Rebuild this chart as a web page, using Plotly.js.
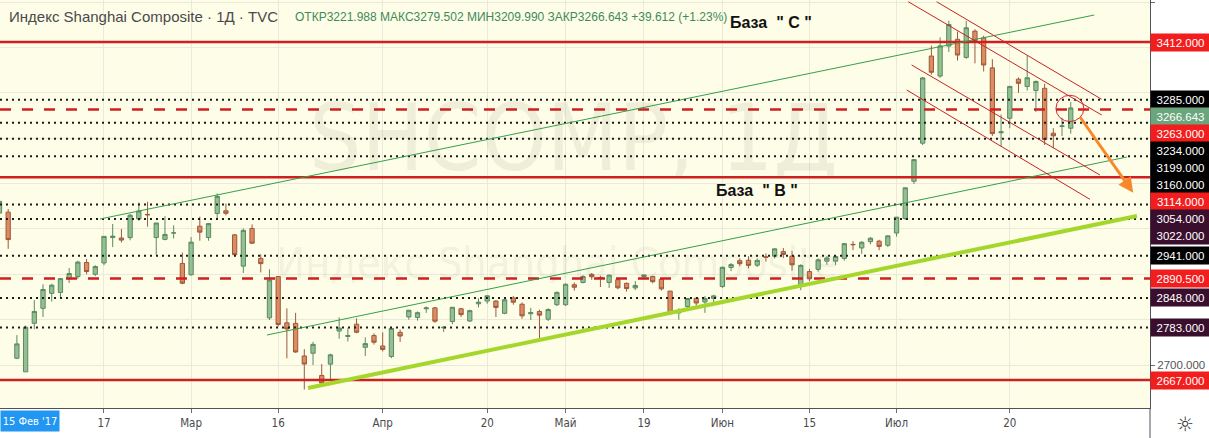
<!DOCTYPE html>
<html>
<head>
<meta charset="utf-8">
<script src="https://cdn.plot.ly/plotly-3.0.1.min.js"></script>
<style>html,body{margin:0;padding:0;background:#fff;}#chart{width:1209px;height:438px;}</style>
</head>
<body>
<div id="chart"></div>
<script>
// ---------- data (daily candles, Index Shanghai Composite) ----------
const dates = ['2020-01-22','2020-01-23','2020-02-03','2020-02-04','2020-02-05','2020-02-06','2020-02-07','2020-02-10','2020-02-11','2020-02-12',
'2020-02-13','2020-02-14','2020-02-17','2020-02-18','2020-02-19','2020-02-20','2020-02-21','2020-02-24','2020-02-25','2020-02-26',
'2020-02-27','2020-02-28','2020-03-02','2020-03-03','2020-03-04','2020-03-05','2020-03-06','2020-03-09','2020-03-10','2020-03-11',
'2020-03-12','2020-03-13','2020-03-16','2020-03-17','2020-03-18','2020-03-19','2020-03-20','2020-03-23','2020-03-24','2020-03-25',
'2020-03-26','2020-03-27','2020-03-30','2020-03-31','2020-04-01','2020-04-02','2020-04-03','2020-04-07','2020-04-08','2020-04-09',
'2020-04-10','2020-04-13','2020-04-14','2020-04-15','2020-04-16','2020-04-17','2020-04-20','2020-04-21','2020-04-22','2020-04-23',
'2020-04-24','2020-04-27','2020-04-28','2020-04-29','2020-04-30','2020-05-06','2020-05-07','2020-05-08','2020-05-11','2020-05-12',
'2020-05-13','2020-05-14','2020-05-15','2020-05-18','2020-05-19','2020-05-20','2020-05-21','2020-05-22','2020-05-25','2020-05-26',
'2020-05-27','2020-05-28','2020-05-29','2020-06-01','2020-06-02','2020-06-03','2020-06-04','2020-06-05','2020-06-08','2020-06-09',
'2020-06-10','2020-06-11','2020-06-12','2020-06-15','2020-06-16','2020-06-17','2020-06-18','2020-06-19','2020-06-22','2020-06-23',
'2020-06-24','2020-06-29','2020-06-30','2020-07-01','2020-07-02','2020-07-03','2020-07-06','2020-07-07','2020-07-08','2020-07-09',
'2020-07-10','2020-07-13','2020-07-14','2020-07-15','2020-07-16','2020-07-17','2020-07-20','2020-07-21','2020-07-22','2020-07-23',
'2020-07-24','2020-07-27','2020-07-28','2020-07-29'];

const openP = [3035,3037,2715,2685,2792,2825,2858,2860,2890,2895,
2926,2900,2925,2981,2980,2981,3022,3032,2981,2977,
2991,2924,2899,3006,2981,3034,3040,2987,2918,3001,
2935,2804,2895,2793,2792,2720,2726,2677,2702,2775,
2763,2790,2739,2765,2742,2719,2772,2806,2805,2824,
2826,2782,2796,2824,2797,2835,2841,2841,2814,2848,
2834,2813,2818,2801,2833,2833,2877,2882,2900,2893,
2882,2888,2880,2870,2895,2895,2889,2863,2815,2829,
2847,2839,2847,2873,2915,2930,2931,2920,2938,2940,
2950,2940,2877,2906,2911,2929,2929,2935,2966,2958,
2972,2973,2964,2991,3023,3105,3189,3381,3337,3403,
3418,3378,3436,3421,3355,3212,3244,3330,3314,3305,
3310,3211,3226,3221.988];

const highP = [3068,3044,2766,2787,2843,2878,2879,2892,2914,2930,
2934,2920,2984,3011,3000,3033,3058,3060,3013,3028,
3008,2948,2982,3027,3013,3078,3056,2989,3001,3010,
2944,2911,2895,2825,2815,2735,2751,2702,2725,2805,
2781,2803,2761,2770,2772,2780,2778,2821,2818,2829,
2828,2786,2827,2826,2822,2847,2854,2843,2844,2852,
2838,2826,2822,2825,2862,2880,2882,2898,2903,2897,
2900,2892,2882,2885,2898,2897,2892,2863,2825,2846,
2849,2852,2855,2917,2925,2935,2940,2935,2946,2957,
2958,2952,2922,2912,2935,2940,2942,2968,2973,2973,
2982,2976,2986,3026,3091,3153,3335,3404,3422,3459,
3435,3459,3440,3426,3374,3252,3315,3334,3382,3327,
3320,3222,3245,3279.502];

const lowP = [3010,2956,2713,2685,2779,2806,2840,2850,2881,2890,
2900,2896,2920,2960,2970,2975,3018,3005,2943,2975,
2979,2878,2897,2974,2974,3021,3030,2940,2903,2968,
2904,2799,2785,2715,2727,2646,2700,2660,2667,2758,
2752,2770,2720,2745,2730,2715,2751,2800,2798,2815,
2793,2773,2790,2806,2795,2827,2835,2806,2812,2833,
2802,2799,2755,2797,2830,2830,2864,2880,2888,2872,
2870,2867,2862,2865,2890,2880,2864,2810,2800,2825,
2831,2815,2835,2870,2907,2918,2913,2916,2928,2935,
2936,2908,2865,2885,2906,2921,2920,2930,2953,2945,
2966,2953,2960,2983,3020,3099,3185,3340,3333,3390,
3371,3375,3365,3347,3205,3182,3222,3300,3305,3258,
3185,3178,3205,3209.990];

const closeP = [3060.8,2976.5,2746.6,2783.3,2818.1,2866.5,2876.0,2890.5,2901.7,2926.9,
2906.1,2917.0,2983.6,2984.0,2975.4,3030.2,3039.7,3031.2,3013.1,2987.9,
2991.3,2880.3,2970.9,2992.9,3011.7,3071.7,3034.5,2943.3,2996.8,2968.5,
2923.5,2887.4,2789.3,2779.6,2728.8,2702.1,2745.6,2660.2,2722.4,2781.6,
2764.9,2772.2,2747.2,2750.3,2734.5,2780.6,2764.0,2820.8,2815.4,2825.9,
2796.6,2783.1,2827.3,2811.2,2819.9,2838.5,2852.6,2827.0,2844.0,2838.5,
2808.5,2815.5,2810.0,2822.4,2860.1,2878.1,2871.5,2895.3,2894.8,2891.6,
2898.1,2870.3,2868.5,2875.4,2898.6,2883.7,2867.9,2813.8,2818.0,2846.6,
2836.8,2846.2,2852.4,2915.4,2921.4,2923.4,2919.7,2930.8,2937.8,2956.1,
2943.8,2920.9,2919.7,2890.0,2931.8,2935.9,2939.3,2967.6,2965.3,2970.6,
2979.6,2961.5,2984.7,3026.0,3090.6,3152.8,3332.9,3345.3,3403.4,3450.6,
3383.3,3443.3,3414.6,3361.3,3210.1,3214.1,3314.2,3320.9,3333.2,3325.1,
3196.8,3205.2,3227.0,3266.643];

// axis tick dates / labels
const tickDates = ['2020-02-17','2020-03-02','2020-03-16','2020-04-01','2020-04-20','2020-05-06','2020-05-19','2020-06-01','2020-06-15','2020-07-01','2020-07-20'];
const tickLabels = ['17','Мар','16','Апр','20','Май','19','Июн','15','Июл','20'];
const priceTicks = [2700,2800,2900,3000,3100,3200,3300,3400,3500];
const priceTicksShown = [2700, 3500];   // others are hidden under the level labels

// horizontal levels
const solidLevels = [3412, 3114, 2667];
const dashedLevels = [3263, 2890.5];
const dottedLevels = [3285, 3234, 3199, 3160, 3054, 3022, 2941, 2848, 2783];
const dottedLabelKind = ['black','black','black','black','purple','purple','black','purple','purple'];
const lastPrice = 3266.643;

// trend lines: [barIndex0, price0, barIndex1, price1]
const greenChannel = [[11.54, 3021.9, 125.7, 3471.5], [30.71, 2766.2, 129.45, 3158.5]];
const supportLine = [35.42, 2649.4, 130.6, 3028.5];
const redChannel = [[107.6, 3500.8, 126.55, 3285.7], [104.34, 3500.8, 126.55, 3251.1],
                    [104.73, 3361.3, 126.35, 3118.8], [104.16, 3306.2, 125.2, 3065.3]];
const arrowLine = [123.94, 3250.0, 130.17, 3079.8];

// ---------- build ----------
const xIdx = dates.map((d, i) => i);
const tickVals = tickDates.map(d => dates.indexOf(d));
const yRange = [2605.3, 3504.6];
const xRange = [0.06, 132.1];
const plotH = 408;

const FONT = 'Liberation Sans, Arial, sans-serif';
const NARROW = 'Liberation Sans Narrow, DejaVu Sans Condensed, Liberation Sans, Arial, sans-serif';

const trace = {
  type: 'candlestick',
  x: xIdx, open: openP, high: highP, low: lowP, close: closeP,
  increasing: {line: {color: '#5b8a5f', width: 1}, fillcolor: '#92c092'},
  decreasing: {line: {color: '#9c5a3c', width: 1}, fillcolor: '#e08a60'},
  whiskerwidth: 0,
  hoverinfo: 'skip',
  showlegend: false
};

const shapes = [];
function hline(p, color, width, dash) {
  shapes.push({type: 'line', xref: 'paper', x0: 0, x1: 1, yref: 'y', y0: p, y1: p,
    line: {color: color, width: width, dash: dash}, layer: 'above'});
}
dottedLevels.forEach(p => hline(p, '#1b1b1b', 2, '2px,4px'));
dashedLevels.forEach(p => hline(p, '#d11f1f', 2.5, '11px,11px'));
solidLevels.forEach(p => hline(p, '#cf1f1f', 2.5, 'solid'));

function seg(a, color, width) {
  shapes.push({type: 'line', xref: 'x', yref: 'y', x0: a[0], y0: a[1], x1: a[2], y1: a[3],
    line: {color: color, width: width}, layer: 'above'});
}
greenChannel.forEach(a => seg(a, '#35a04a', 1));
seg(supportLine, '#a5d62c', 4);
redChannel.forEach(a => seg(a, '#c62424', 1));

// circle around the last candle
const lastI = xIdx[xIdx.length - 1];
shapes.push({type: 'circle', xref: 'x', yref: 'y', x0: lastI - 1.7, x1: lastI + 1.5,
  y0: lastPrice - 30, y1: lastPrice + 28, line: {color: '#d12a2a', width: 1}, layer: 'above'});

// axis separator in bottom strip
shapes.push({type: 'line', xref: 'paper', yref: 'paper', x0: 1, x1: 1, y0: 0, y1: -30 / plotH,
  line: {color: '#50535e', width: 1}});

const annotations = [];
// watermark (drawn first, under the rest)
annotations.push({xref: 'paper', yref: 'paper', x: 573 / 1150, y: 1 - 138 / plotH, xanchor: 'center', yanchor: 'middle',
  text: 'SHCOMP, 1Д', showarrow: false, height: 80, valign: 'middle',
  font: {family: NARROW, size: 92, color: 'rgba(90,90,60,0.085)'}});
annotations.push({xref: 'paper', yref: 'paper', x: 556 / 1150, y: 1 - 263 / plotH, xanchor: 'center', yanchor: 'middle',
  text: 'Индекс Shanghai Composite', showarrow: false, height: 40, valign: 'middle',
  font: {family: NARROW, size: 43, color: 'rgba(90,90,60,0.085)'}});

// title lines
annotations.push({xref: 'paper', yref: 'paper', x: 7 / 1150, y: 1 - 17 / plotH, xanchor: 'left', yanchor: 'middle',
  text: 'Индекс Shanghai Composite · 1Д · TVC', showarrow: false, font: {family: FONT, size: 15, color: '#4a4a4a'}});
annotations.push({xref: 'paper', yref: 'paper', x: 293 / 1150, y: 1 - 17 / plotH, xanchor: 'left', yanchor: 'middle',
  text: 'ОТКР3221.988 МАКС3279.502 МИН3209.990 ЗАКР3266.643 +39.612 (+1.23%)', showarrow: false,
  font: {family: FONT, size: 12, color: '#3f8a58'}});

// base labels
annotations.push({xref: 'x', yref: 'y', x: 88.6, y: 3456.1, text: 'База  " C "', showarrow: false,
  font: {family: FONT, size: 16, color: '#111', weight: 'bold'}});
annotations.push({xref: 'x', yref: 'y', x: 87.0, y: 3085.8, text: 'База  " B "', showarrow: false,
  font: {family: FONT, size: 16, color: '#111', weight: 'bold'}});

// orange arrow
annotations.push({xref: 'x', yref: 'y', axref: 'x', ayref: 'y', x: arrowLine[2], y: arrowLine[3],
  ax: arrowLine[0], ay: arrowLine[1], text: '', showarrow: true, arrowhead: 2, arrowsize: 1,
  arrowwidth: 3, arrowcolor: '#f7892a'});

// right price labels with collision avoidance
const boxes = [];
solidLevels.forEach(p => boxes.push({p: p, bg: '#f21d1d'}));
dashedLevels.forEach(p => boxes.push({p: p, bg: '#f21d1d'}));
dottedLevels.forEach((p, i) => boxes.push({p: p, bg: dottedLabelKind[i] === 'black' ? '#000000' : '#3a0f2e'}));
boxes.push({p: lastPrice, bg: '#6aa57c'});
boxes.sort((a, b) => b.p - a.p);
let prev = -1e9;
boxes.forEach(b => {
  const nat = (yRange[1] - b.p) / (yRange[1] - yRange[0]) * plotH;
  const want = Math.max(nat, prev + 17);
  prev = want;
  annotations.push({xref: 'paper', yref: 'y', x: 1, y: b.p, xanchor: 'left', yanchor: 'middle',
    xshift: 0, yshift: nat - want, text: b.p.toFixed(3), showarrow: false,
    bgcolor: b.bg, width: 55, height: 13, borderpad: 2,
    font: {family: FONT, size: 11.5, color: '#ffffff'}});
});

// bottom-left date marker
annotations.push({xref: 'paper', yref: 'paper', x: 0, y: 0, xanchor: 'left', yanchor: 'top', yshift: -2,
  text: "15 Фев '17", showarrow: false, bgcolor: '#2196f3', width: 56, height: 18, borderpad: 1,
  font: {family: NARROW, size: 11, color: '#ffffff'}});
// settings icon
annotations.push({xref: 'paper', yref: 'paper', x: 1185 / 1150, y: -16 / plotH, xanchor: 'center', yanchor: 'middle',
  text: '☼', showarrow: false, font: {family: 'DejaVu Sans', size: 20, color: '#333'}});

const layout = {
  width: 1209, height: 438,
  margin: {l: 0, r: 59, t: 0, b: 30, pad: 0},
  paper_bgcolor: '#ffffff',
  plot_bgcolor: '#fdfde8',
  showlegend: false,
  hovermode: false,
  dragmode: false,
  xaxis: {
    type: 'linear', range: xRange, rangeslider: {visible: false},
    tickmode: 'array', tickvals: tickVals, ticktext: tickLabels,
    showgrid: true, gridcolor: '#ebeada', gridwidth: 1, zeroline: false,
    showline: true, linecolor: '#50535e', linewidth: 1,
    ticks: 'outside', ticklen: 4, tickcolor: '#6a6d78',
    tickfont: {family: NARROW, size: 11.5, color: '#4a4a4a'}
  },
  yaxis: {
    side: 'right', range: yRange, fixedrange: true,
    tickmode: 'array', tickvals: priceTicks,
    ticktext: priceTicks.map(v => priceTicksShown.includes(v) ? v.toFixed(3) : ''),
    showgrid: true, gridcolor: '#ebeada', gridwidth: 1, zeroline: false,
    showline: true, linecolor: '#50535e', linewidth: 1,
    ticks: 'outside', ticklen: 4, tickcolor: '#6a6d78',
    tickfont: {family: FONT, size: 11.5, color: '#555'}
  },
  shapes: shapes,
  annotations: annotations
};

Plotly.newPlot('chart', [trace], layout, {displayModeBar: false, staticPlot: true});
</script>
</body>
</html>
